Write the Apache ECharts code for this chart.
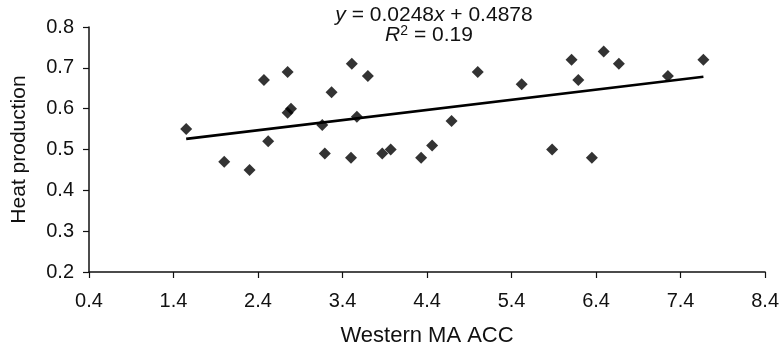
<!DOCTYPE html>
<html>
<head>
<meta charset="utf-8">
<script src="https://cdn.jsdelivr.net/npm/echarts@6/dist/echarts.min.js"></script>
<style>html,body{margin:0;padding:0;background:#fff;}#c{width:782px;height:352px;}</style>
</head>
<body>
<div id="c"></div>
<script>
var xValues = [1.55, 2.0, 2.3, 2.47, 2.52, 2.75, 2.75, 2.79, 3.16, 3.19, 3.27, 3.5, 3.51, 3.57, 3.70, 3.87, 3.97, 4.33, 4.46, 4.69, 5.0, 5.52, 5.88, 6.11, 6.19, 6.35, 6.49, 6.67, 7.25, 7.67];
var yValues = [0.55, 0.47, 0.45, 0.67, 0.52, 0.69, 0.59, 0.60, 0.56, 0.49, 0.64, 0.48, 0.71, 0.58, 0.68, 0.49, 0.50, 0.48, 0.51, 0.57, 0.69, 0.66, 0.50, 0.72, 0.67, 0.48, 0.74, 0.71, 0.68, 0.72];
var trendX = [1.55, 7.67];
var trendY = [0.526, 0.678];
var xTickLabels = ['0.4','1.4','2.4','3.4','4.4','5.4','6.4','7.4','8.4'];
var yTickLabels = ['0.2','0.3','0.4','0.5','0.6','0.7','0.8'];
var xName = 'Western MA ACC';
var yName = 'Heat production';

var FONT = "'Liberation Sans', Arial, Helvetica, sans-serif";
var pts = xValues.map(function (x, i) { return [x, yValues[i]]; });
var trend = trendX.map(function (x, i) { return [x, trendY[i]]; });

var chart = echarts.init(document.getElementById('c'), null, {renderer: 'canvas'});
chart.setOption({
  animation: false,
  backgroundColor: '#ffffff',
  grid: {left: 89, right: 16, top: 27, bottom: 75, containLabel: false},
  xAxis: {
    type: 'value', min: 0.4, max: 8.4, interval: 1,
    name: xName, nameLocation: 'middle', nameGap: 53,
    nameTextStyle: {fontFamily: FONT, fontSize: 22, color: '#111'},
    axisLine: {show: true, onZero: false, lineStyle: {color: '#111', width: 1.5}},
    axisTick: {show: true, inside: false, length: 6, lineStyle: {color: '#111', width: 1.2}},
    axisLabel: {fontFamily: FONT, fontSize: 20, color: '#111', margin: 19,
      formatter: function (v) { var s = v.toFixed(1); return xTickLabels.indexOf(s) >= 0 ? s : ''; }},
    splitLine: {show: false}
  },
  yAxis: {
    type: 'value', min: 0.2, max: 0.8, interval: 0.1,
    name: yName, nameLocation: 'middle', nameGap: 59, nameRotate: 90,
    nameTextStyle: {fontFamily: FONT, fontSize: 21, color: '#111'},
    axisLine: {show: true, onZero: false, lineStyle: {color: '#111', width: 1.5}},
    axisTick: {show: true, inside: false, length: 6, lineStyle: {color: '#111', width: 1.2}},
    axisLabel: {fontFamily: FONT, fontSize: 20, color: '#111', margin: 15,
      formatter: function (v) { var s = v.toFixed(1); return yTickLabels.indexOf(s) >= 0 ? s : ''; }},
    splitLine: {show: false}
  },
  graphic: [
    {
      type: 'text', z: 10,
      x: 434, y: 15,
      style: {
        x: 0, y: 0,
        text: '{i|y} = 0.0248{i|x} + 0.4878',
        align: 'center', verticalAlign: 'middle',
        font: '21px ' + FONT, fill: '#111',
        rich: {i: {fontStyle: 'italic', fontFamily: FONT, fontSize: 21, color: '#111'}}
      }
    },
    {
      type: 'text', z: 10,
      x: 429, y: 35,
      style: {
        x: 0, y: 0,
        text: '{i|R}{s|2} = 0.19',
        align: 'center', verticalAlign: 'middle',
        font: '21px ' + FONT, fill: '#111',
        rich: {
          i: {fontStyle: 'italic', fontFamily: FONT, fontSize: 21, color: '#111'},
          s: {fontFamily: FONT, fontSize: 14, color: '#111', verticalAlign: 'top', padding: [0, 0, 8, 0]}
        }
      }
    }
  ],
  series: [
    {
      type: 'scatter', data: pts, symbol: 'diamond', symbolSize: [12, 12],
      itemStyle: {color: '#000'}, z: 3
    },
    {
      type: 'line', data: trend, showSymbol: false, symbol: 'none',
      lineStyle: {color: '#000', width: 2.6}, z: 2
    }
  ]
});
</script>
</body>
</html>
